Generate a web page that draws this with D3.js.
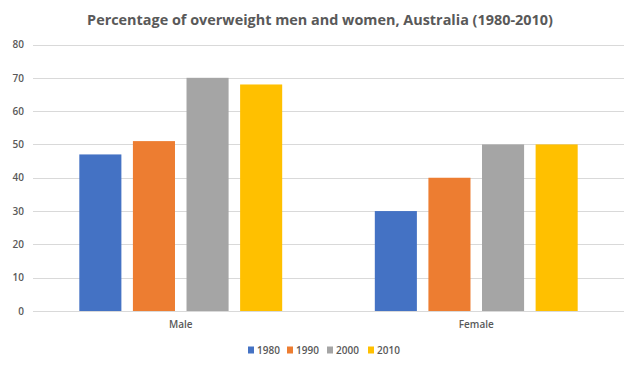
<!DOCTYPE html>
<html>
<head>
<meta charset="utf-8">
<script src="https://cdn.jsdelivr.net/npm/d3@7"></script>
<style>
  html, body { margin: 0; padding: 0; background: #fff; }
  svg { display: block; font-family: "Open Sans", "Liberation Sans", sans-serif; }
</style>
</head>
<body>
<svg id="chart" width="640" height="367"></svg>
<script>
const title = "Percentage of overweight men and women, Australia (1980-2010)";
const categories = ["Male", "Female"];
const years = ["1980", "1990", "2000", "2010"];
const values1980 = [47, 30];
const values1990 = [51, 40];
const values2000 = [70, 50];
const values2010 = [68, 50];
const yTicks = [0, 10, 20, 30, 40, 50, 60, 70, 80];
const colors = ["#4472C4", "#ED7D31", "#A5A5A5", "#FFC000"];

const seriesValues = [values1980, values1990, values2000, values2010];
const data = categories.map((c, i) => ({
  category: c,
  bars: years.map((y, j) => ({ year: y, value: seriesValues[j][i], color: colors[j] }))
}));

const svg = d3.select("#chart");
const plotLeft = 33, plotRight = 624, plotTop = 44.5, plotBottom = 311;

const x0 = d3.scaleBand().domain(categories).range([plotLeft, plotRight]).padding(0);
const x1 = d3.scaleBand().domain(years).range([0, x0.bandwidth()]).paddingInner(0.215).paddingOuter(0.864);
const y = d3.scaleLinear().domain([0, 80]).range([plotBottom, plotTop]);

// Title
const t = svg.append("text")
  .attr("x", 320).attr("y", 25)
  .attr("text-anchor", "middle")
  .attr("font-family", "'Liberation Sans Narrow', 'Open Sans', sans-serif")
  .attr("font-weight", "bold")
  .attr("font-size", 16)
  .attr("fill", "#595959")
  .text(title);
const tw = t.node().getComputedTextLength();
t.attr("font-size", 16 * 466 / tw);

// Gridlines
svg.append("g").selectAll("line").data(yTicks).join("line")
  .attr("x1", plotLeft).attr("x2", plotRight)
  .attr("y1", d => Math.round(y(d)) + 0.5).attr("y2", d => Math.round(y(d)) + 0.5)
  .attr("stroke", "#D9D9D9").attr("stroke-width", 1);

// Y axis (labels only)
const yAxis = d3.axisLeft(y).tickValues(yTicks).tickSize(0).tickPadding(9);
const yg = svg.append("g").attr("transform", `translate(${plotLeft},0)`).call(yAxis);
yg.select(".domain").remove();
yg.selectAll("text").attr("font-size", 10).attr("fill", "#595959").attr("font-family", "Open Sans, sans-serif").attr("font-weight", 600);

// Bars
const groups = svg.append("g").selectAll("g").data(data).join("g")
  .attr("transform", d => `translate(${x0(d.category)},0)`);
groups.selectAll("rect").data(d => d.bars).join("rect")
  .attr("x", d => x1(d.year))
  .attr("width", x1.bandwidth())
  .attr("y", d => y(d.value))
  .attr("height", d => y(0) - y(d.value))
  .attr("fill", d => d.color);

// X axis (labels only)
const xAxis = d3.axisBottom(x0).tickSize(0).tickPadding(10);
const xg = svg.append("g").attr("transform", `translate(0,${plotBottom})`).call(xAxis);
xg.select(".domain").remove();
xg.selectAll("text").attr("font-size", 10).attr("fill", "#595959").attr("font-family", "Open Sans, sans-serif").attr("font-weight", 600);

// Legend
const legendX = [248, 287, 327, 368];
const legend = svg.append("g").selectAll("g").data(years).join("g")
  .attr("transform", (d, i) => `translate(${legendX[i]},350)`);
legend.append("rect").attr("x", 0).attr("y", -3.5).attr("width", 6).attr("height", 7)
  .attr("fill", (d, i) => colors[i]);
legend.append("text").attr("x", 9).attr("y", 0).attr("dy", "0.35em")
  .attr("font-size", 10).attr("fill", "#595959").attr("font-weight", 600)
  .text(d => d);
</script>
</body>
</html>
